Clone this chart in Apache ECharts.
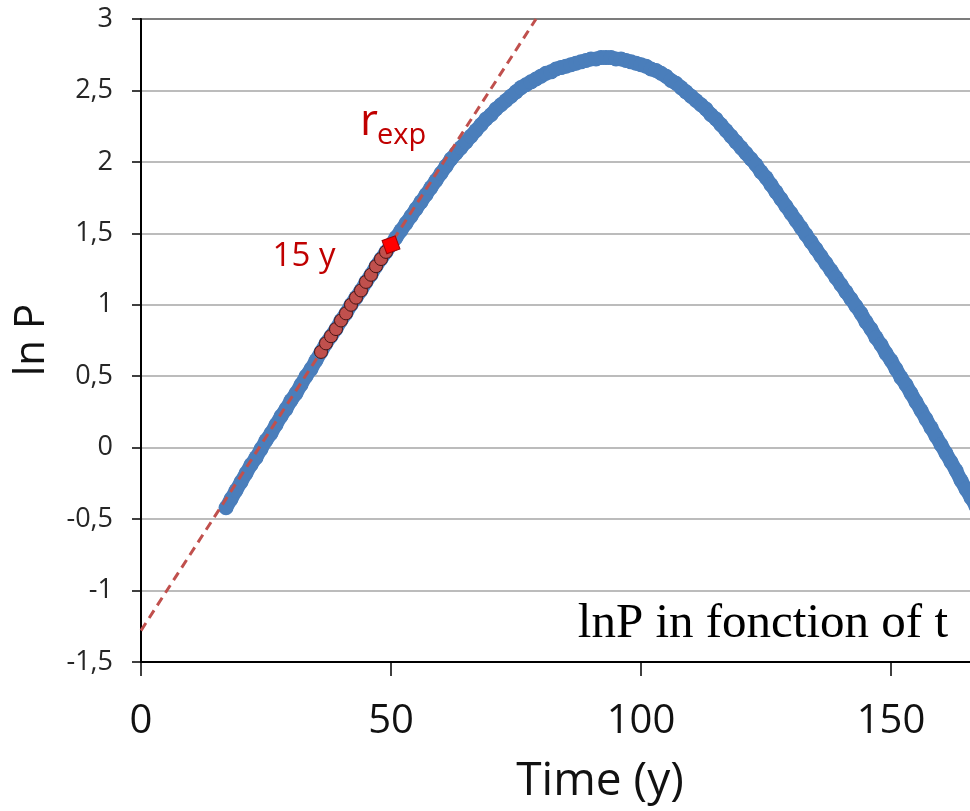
<!DOCTYPE html>
<html>
<head>
<meta charset="utf-8">
<script src="https://cdn.jsdelivr.net/npm/echarts@6/dist/echarts.min.js"></script>
<style>html,body{margin:0;padding:0;background:#fff}#c{width:970px;height:811px}</style>
</head>
<body>
<div id="c"></div>
<script>
const xTicks = [0, 50, 100, 150];
const yTickLabels = ['-1,5','-1','-0,5','0','0,5','1','1,5','2','2,5','3'];

const blueTime = [17,18,19,20,21,22,23,24,25,26,27,28,29,30,31,32,33,34,35,36,37,38,39,40,41,42,43,44,45,46,47,48,49,50,
  51,52,53,54,55,56,57,58,59,60,61,62,63,64,65,66,67,68,69,70,71,72,73,74,75,76,77,78,79,80,81,82,83,84,85,86,87,88,89,90,
  91,92,93,94,95,96,97,98,99,100,101,102,103,104,105,106,107,108,109,110,111,112,113,114,115,116,117,118,119,120,
  121,122,123,124,125,126,127,128,129,130,131,132,133,134,135,136,137,138,139,140,141,142,143,144,145,146,147,148,149,150,
  151,152,153,154,155,156,157,158,159,160,161,162,163,164,165,166,167,168,169,170];
const blueLnP = [-0.42,-0.36,-0.30,-0.24,-0.18,-0.12,-0.07,-0.01,0.05,0.10,0.16,0.22,0.27,0.33,0.38,0.44,0.50,0.55,0.61,0.67,0.73,0.78,0.83,0.89,0.94,1.00,1.05,1.10,1.16,1.21,1.27,1.32,1.37,1.42,
  1.47,1.52,1.57,1.62,1.67,1.72,1.77,1.82,1.87,1.92,1.97,2.02,2.06,2.10,2.14,2.18,2.22,2.26,2.30,2.33,2.37,2.40,2.43,2.46,2.49,2.52,2.54,2.56,2.58,2.60,2.62,2.63,2.65,2.66,2.67,2.68,2.69,2.70,2.71,2.72,
  2.72,2.73,2.73,2.73,2.72,2.72,2.71,2.70,2.69,2.68,2.67,2.65,2.64,2.62,2.60,2.57,2.55,2.52,2.49,2.46,2.43,2.40,2.37,2.33,2.30,2.26,2.22,2.18,2.14,2.10,
  2.06,2.02,1.98,1.93,1.89,1.84,1.79,1.74,1.69,1.64,1.59,1.54,1.49,1.44,1.39,1.34,1.29,1.24,1.19,1.14,1.09,1.04,0.99,0.94,0.88,0.83,0.77,0.72,0.66,0.61,
  0.55,0.49,0.44,0.38,0.32,0.26,0.20,0.14,0.08,0.02,-0.04,-0.10,-0.16,-0.23,-0.29,-0.35,-0.41,-0.48,-0.54,-0.61];

const redTime = [36,37,38,39,40,41,42,43,44,45,46,47,48,49];
const redLnP = [0.67,0.73,0.78,0.83,0.89,0.94,1.00,1.05,1.10,1.16,1.21,1.27,1.32,1.37];

const lastTime = [50];
const lastLnP = [1.42];

const trendTime = [0, 79];
const trendLnP = [-1.28, 3];

const zip = (a, b) => a.map((v, i) => [v, b[i]]);

const chart = echarts.init(document.getElementById('c'));
chart.setOption({
  animation: false,
  backgroundColor: '#ffffff',
  grid: { left: 141, top: 19, width: 850, height: 643, outerBoundsMode: 'none', containLabel: false,
          show: true, borderColor: '#000', borderWidth: 2, backgroundColor: 'transparent' },
  xAxis: {
    type: 'value', min: 0, max: 170, interval: 50,
    axisLine: { show: true, onZero: false, lineStyle: { color: '#000', width: 2 } },
    axisTick: { show: true, length: 14, lineStyle: { color: '#000', width: 1.5 } },
    splitLine: { show: false },
    axisLabel: {
      margin: 40, fontSize: 40, color: '#111', fontFamily: 'Open Sans',
      formatter: v => (xTicks.indexOf(v) >= 0 ? String(v) : '')
    }
  },
  yAxis: {
    type: 'value', min: -1.5, max: 3, interval: 0.5,
    axisLine: { show: true, onZero: false, lineStyle: { color: '#000', width: 2 } },
    axisTick: { show: true, length: 9, lineStyle: { color: '#000', width: 1.5 } },
    splitLine: { show: true, lineStyle: { color: '#a6a6a6', width: 1.5 } },
    axisLabel: {
      margin: 28, fontSize: 27, color: '#262626', fontFamily: 'Open Sans',
      formatter: v => yTickLabels[Math.round((v + 1.5) / 0.5)]
    }
  },
  series: [
    { type: 'line', data: zip(blueTime, blueLnP), symbol: 'none', smooth: false,
      lineStyle: { color: '#4a7ebb', width: 14 }, z: 1 },
    { type: 'scatter', data: zip(blueTime, blueLnP), symbol: 'circle', symbolSize: 15,
      itemStyle: { color: '#4a7ebb', opacity: 1 }, z: 2 },
    { type: 'line', data: zip(trendTime, trendLnP), symbol: 'none',
      lineStyle: { color: '#c0504d', width: 3, type: [9, 6] }, z: 3 },
    { type: 'scatter', data: zip(redTime, redLnP), symbol: 'circle', symbolSize: 13,
      itemStyle: { color: '#c0504d', borderColor: '#4a1514', borderWidth: 1, opacity: 1 }, z: 4 },
    { type: 'scatter', data: zip(lastTime, lastLnP), symbol: 'rect', symbolSize: 14, symbolRotate: 20,
      itemStyle: { color: '#ff0000', borderColor: '#a00000', borderWidth: 1, opacity: 1 }, z: 5 }
  ],
  graphic: [
    { type: 'text', x: 600, y: 782, style: { text: 'Time (y)', font: '46px "Open Sans"', fill: '#111', align: 'center', verticalAlign: 'middle' } },
    { type: 'text', x: 32, y: 340, rotation: Math.PI / 2, style: { text: 'ln P', font: '42px "Open Sans"', fill: '#111', align: 'center', verticalAlign: 'middle' } },
    { type: 'text', x: 948, y: 624, style: { text: 'lnP in fonction of t', font: '49px "Liberation Serif"', fill: '#000', align: 'right', verticalAlign: 'middle' } },
    { type: 'text', x: 304, y: 257, style: { text: '15 y', font: '33px "Open Sans"', fill: '#c00000', align: 'center', verticalAlign: 'middle' } },
    { type: 'text', x: 360, y: 122, style: { text: 'r', font: '44px "Open Sans"', fill: '#c00000', align: 'left', verticalAlign: 'middle' } },
    { type: 'text', x: 377, y: 136, style: { text: 'exp', font: '29px "Open Sans"', fill: '#c00000', align: 'left', verticalAlign: 'middle' } }
  ]
});
</script>
</body>
</html>
